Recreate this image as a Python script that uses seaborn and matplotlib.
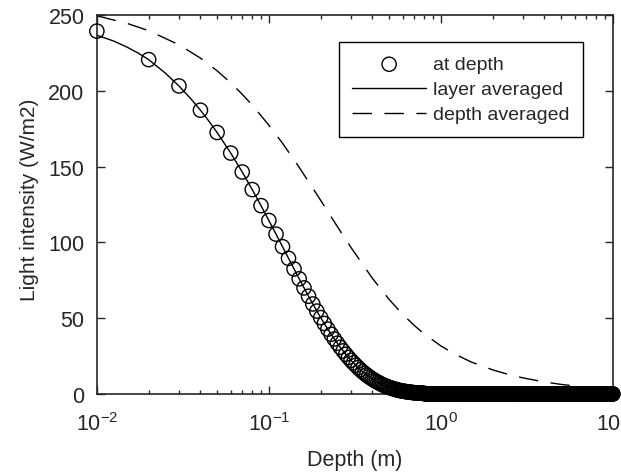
import matplotlib
matplotlib.use("Agg")
import matplotlib.pyplot as plt
import seaborn as sns
import pandas as pd

# ---- data ----
# "at depth" circles, one every 0.01 m
depth_at = [0.01, 0.02, 0.03, 0.04, 0.05, 0.06, 0.07, 0.08, 0.09, 0.10,
            0.11, 0.12, 0.13, 0.14, 0.15, 0.16, 0.17, 0.18, 0.19, 0.20,
            0.21, 0.22, 0.23, 0.24, 0.25, 0.26, 0.27, 0.28, 0.29, 0.30,
            0.31, 0.32, 0.33, 0.34, 0.35, 0.36, 0.37, 0.38, 0.39, 0.40,
            0.41, 0.42, 0.43, 0.44, 0.45, 0.46, 0.47, 0.48, 0.49, 0.50,
            0.51, 0.52, 0.53, 0.54, 0.55, 0.56, 0.57, 0.58, 0.59, 0.60,
            0.61, 0.62, 0.63, 0.64, 0.65, 0.66, 0.67, 0.68, 0.69, 0.70]
intensity_at = [239.5, 220.7, 203.3, 187.3, 172.6, 159.0, 146.5, 134.9, 124.3, 114.5,
                105.5, 97.2, 89.5, 82.5, 76.0, 70.0, 64.5, 59.4, 54.7, 50.4,
                46.5, 42.8, 39.4, 36.3, 33.5, 30.8, 28.4, 26.2, 24.1, 22.2,
                20.5, 18.9, 17.4, 16.0, 14.7, 13.6, 12.5, 11.5, 10.6, 9.8,
                9.0, 8.3, 7.7, 7.1, 6.5, 6.0, 5.5, 5.1, 4.7, 4.3,
                4.0, 3.7, 3.4, 3.1, 2.9, 2.6, 2.4, 2.2, 2.1, 1.9,
                1.8, 1.6, 1.5, 1.4, 1.3, 1.2, 1.1, 1.0, 0.9, 0.8]
# deeper samples: intensity is effectively zero (dense black band of circles)
depth_tail = [0.71, 0.72, 0.73, 0.74, 0.75, 0.76, 0.77, 0.78, 0.79, 0.80,
              0.81, 0.82, 0.83, 0.84, 0.85, 0.86, 0.87, 0.88, 0.89, 0.90,
              0.91, 0.92, 0.93, 0.94, 0.95, 0.96, 0.97, 0.98, 0.99, 1.00,
              1.02, 1.04, 1.06, 1.08, 1.10, 1.12, 1.14, 1.16, 1.18, 1.20,
              1.22, 1.24, 1.26, 1.28, 1.30, 1.32, 1.34, 1.36, 1.38, 1.40,
              1.42, 1.44, 1.46, 1.48, 1.50, 1.52, 1.54, 1.56, 1.58, 1.60,
              1.62, 1.64, 1.66, 1.68, 1.70, 1.72, 1.74, 1.76, 1.78, 1.80,
              1.82, 1.84, 1.86, 1.88, 1.90, 1.92, 1.94, 1.96, 1.98, 2.00,
              2.04, 2.08, 2.12, 2.16, 2.20, 2.24, 2.28, 2.32, 2.36, 2.40,
              2.44, 2.48, 2.52, 2.56, 2.60, 2.64, 2.68, 2.72, 2.76, 2.80,
              2.85, 2.90, 2.95, 3.00, 3.05, 3.10, 3.15, 3.20, 3.25, 3.30,
              3.35, 3.40, 3.45, 3.50, 3.55, 3.60, 3.65, 3.70, 3.75, 3.80,
              3.85, 3.90, 3.95, 4.00, 4.05, 4.10, 4.15, 4.20, 4.25, 4.30,
              4.35, 4.40, 4.45, 4.50, 4.55, 4.60, 4.65, 4.70, 4.75, 4.80,
              4.85, 4.90, 4.95, 5.00, 5.08, 5.16, 5.24, 5.32, 5.40, 5.48,
              5.56, 5.64, 5.72, 5.80, 5.88, 5.96, 6.04, 6.12, 6.20, 6.28,
              6.36, 6.44, 6.52, 6.60, 6.68, 6.76, 6.84, 6.92, 7.00, 7.08,
              7.16, 7.24, 7.32, 7.40, 7.48, 7.56, 7.64, 7.72, 7.80, 7.88,
              7.96, 8.04, 8.12, 8.20, 8.28, 8.36, 8.44, 8.52, 8.60, 8.68,
              8.76, 8.84, 8.92, 9.00, 9.08, 9.16, 9.24, 9.32, 9.40, 9.48,
              9.56, 9.64, 9.72, 9.80, 9.88, 9.96, 10.00]
intensity_tail_start = [0.8, 0.7, 0.7, 0.6, 0.6, 0.5, 0.5, 0.5, 0.4, 0.4]
intensity_tail = intensity_tail_start + [0.0] * (len(depth_tail) - len(intensity_tail_start))

# "layer averaged" solid line: finer samples near the surface, then follows the circles
layer_head_depth = [0.01, 0.0125, 0.015, 0.0175, 0.02, 0.025, 0.03, 0.035, 0.04, 0.045, 0.05]
layer_head_intensity = [236.8, 233.0, 228.9, 224.8, 220.7, 211.8, 203.3, 195.1, 187.3, 179.8, 172.6]

# "depth averaged" dashed line
depth_avg_depth = [0.01, 0.015, 0.02, 0.03, 0.04, 0.05, 0.06, 0.07, 0.08, 0.10,
                   0.12, 0.15, 0.20, 0.25, 0.30, 0.40, 0.50, 0.60, 0.70, 0.80,
                   1.0, 1.2, 1.5, 2.0, 2.5, 3.0, 4.0, 5.0, 6.0, 7.0, 8.0, 10.0]
depth_avg_intensity = [249.6, 244.6, 239.8, 230.5, 221.7, 213.3, 205.4, 197.8, 190.7, 177.4,
                       165.5, 149.6, 127.8, 110.5, 96.7, 76.3, 62.4, 52.5, 45.2, 39.6,
                       31.7, 26.4, 21.1, 15.9, 12.7, 10.6, 7.9, 6.3, 5.3, 4.5, 4.0, 3.2]

x_ticks = [0.01, 0.1, 1, 10]
x_tick_labels = [r"$10^{-2}$", r"$10^{-1}$", r"$10^{0}$", r"$10^{1}$"]
y_ticks = [0, 50, 100, 150, 200, 250]
x_label = "Depth (m)"
y_label = "Light intensity (W/m2)"
legend_labels = ["at depth", "layer averaged", "depth averaged"]

# ---- build tables ----
at_df = pd.DataFrame({"depth": depth_at + depth_tail,
                      "intensity": intensity_at + intensity_tail})
layer_df = pd.DataFrame({"depth": layer_head_depth + depth_at[5:] + depth_tail,
                         "intensity": layer_head_intensity + intensity_at[5:] + intensity_tail})
davg_df = pd.DataFrame({"depth": depth_avg_depth, "intensity": depth_avg_intensity})

# ---- style ----
sns.set_style("ticks")
txt = "#262626"
plt.rcParams["font.family"] = ["Liberation Sans", "DejaVu Sans"]
plt.rcParams["mathtext.fontset"] = "custom"
plt.rcParams["mathtext.rm"] = "Liberation Sans"
plt.rcParams["mathtext.default"] = "regular"

fig = plt.figure(figsize=(6.21, 4.77), dpi=100, facecolor="white")
ax = fig.add_axes([0.156, 0.172, 0.831, 0.794])

sns.scatterplot(data=at_df, x="depth", y="intensity", ax=ax, marker="o",
                s=105, facecolors="none", edgecolor="black", linewidth=1.0,
                clip_on=False, zorder=3, label=legend_labels[0])
sns.lineplot(data=layer_df, x="depth", y="intensity", ax=ax, color="black",
             linewidth=1.0, estimator=None, sort=True, label=legend_labels[1])
sns.lineplot(data=davg_df, x="depth", y="intensity", ax=ax, color="black",
             linewidth=1.0, linestyle=(0, (14, 9)), estimator=None, sort=True,
             label=legend_labels[2])

ax.set_xscale("log")
ax.set_xlim(0.01, 10)
ax.set_ylim(0, 250)
ax.set_xticks(x_ticks)
ax.set_yticks(y_ticks)
ax.set_xticklabels(x_tick_labels)
ax.set_xlabel(x_label, fontsize=15.5, color=txt, labelpad=10)
ax.set_ylabel(y_label, fontsize=15, color=txt, labelpad=6)
ax.yaxis.set_label_coords(-0.112, 0.515)

for s in ax.spines.values():
    s.set_visible(True)
    s.set_linewidth(1.2)
    s.set_color(txt)
ax.tick_params(which="both", direction="in", top=True, right=True,
               colors=txt, labelsize=15.5, width=1.0)
ax.tick_params(which="major", length=6)
ax.tick_params(which="minor", length=3)
ax.tick_params(axis="y", which="major", pad=9)
ax.tick_params(axis="x", which="major", pad=13)

leg = ax.legend(loc="upper right", bbox_to_anchor=(0.942, 0.929),
                borderaxespad=0, frameon=True, fancybox=False, framealpha=1,
                edgecolor="black", fontsize=14, handlelength=3.8,
                handletextpad=0.35, labelspacing=0.38, borderpad=0.7)
leg.get_frame().set_linewidth(1.0)
for t in leg.get_texts():
    t.set_color(txt)

fig.savefig("out.png", dpi=100, facecolor="white")
